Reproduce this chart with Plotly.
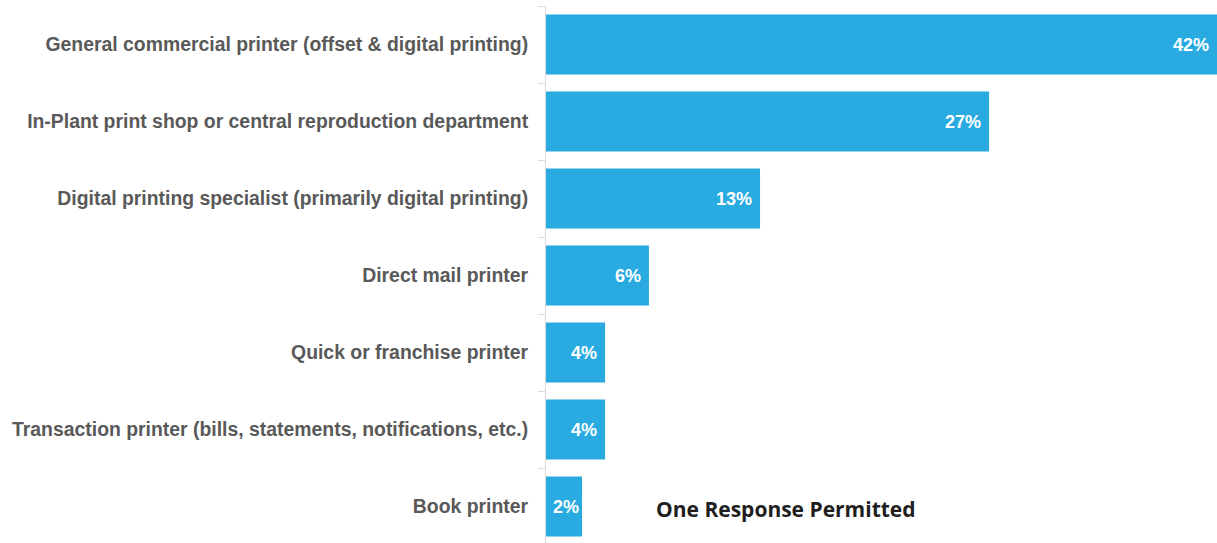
import plotly.graph_objects as go

categories = [
    "General commercial printer (offset & digital printing)",
    "In-Plant print shop or central reproduction department",
    "Digital printing specialist (primarily digital printing)",
    "Direct mail printer",
    "Quick or franchise printer",
    "Transaction printer (bills, statements, notifications, etc.)",
    "Book printer",
]
values = [41.57, 27.45, 13.26, 6.38, 3.66, 3.66, 2.23]
note = "One Response Permitted"

bar_color = "#29ABE2"
label_color = "#595959"

templates = ["%{x:.0f}%\u00a0" if v > 3 else "%{x:.0f}%" for v in values]

fig = go.Figure(
    go.Bar(
        x=values,
        y=categories,
        orientation="h",
        marker=dict(color=bar_color, line=dict(width=0)),
        texttemplate=templates,
        textposition="inside",
        insidetextanchor="end",
        textangle=0,
        textfont=dict(family="Liberation Sans, Arial, sans-serif", size=18, color="white", weight="bold"),
        cliponaxis=False,
        constraintext="none",
        hoverinfo="skip",
    )
)

n = len(categories)
fig.update_layout(
    width=1217,
    height=543,
    margin=dict(l=546, r=0, t=6, b=0),
    paper_bgcolor="white",
    plot_bgcolor="white",
    bargap=0.22,
    showlegend=False,
    xaxis=dict(
        range=[0, max(values)],
        visible=False,
        showgrid=False,
        zeroline=False,
    ),
    yaxis=dict(
        range=[n - 0.5 - 0.026, -0.5],
        showgrid=False,
        zeroline=False,
        showline=True,
        linecolor="#d9d9d9",
        linewidth=1,
        ticks="outside",
        tickson="boundaries",
        ticklen=7,
        tickcolor="#d9d9d9",
        tickwidth=1,
        ticklabelstandoff=13,
        tickfont=dict(family="Liberation Sans, Arial, sans-serif", size=19.4, color=label_color, weight="bold"),
    ),
    annotations=[
        dict(
            text=note,
            xref="paper",
            yref="paper",
            x=0.358,
            y=0.063,
            xanchor="center",
            yanchor="middle",
            showarrow=False,
            font=dict(family="Open Sans, sans-serif", size=21, color="#1e1e1e", weight="bold"),
        )
    ],
)

fig.write_html(
    "out.html",
    config={"displayModeBar": False},
    post_script="document.body.style.margin='0';document.body.style.overflow='hidden';",
)
